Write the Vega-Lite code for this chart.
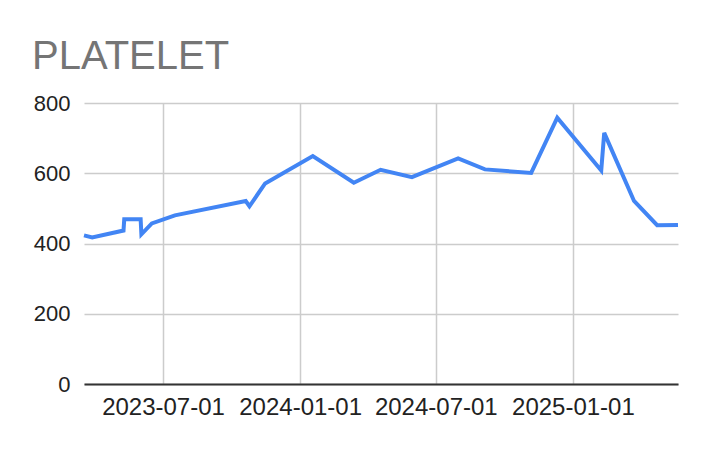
{
  "$schema": "https://vega.github.io/schema/vega-lite/v6.json",
  "description": "PLATELET count over time, Google Sheets style line chart.",
  "width": 594,
  "height": 281,
  "autosize": {"type": "none"},
  "padding": {"left": 84, "top": 103, "right": 34, "bottom": 84},
  "background": "white",
  "title": {
    "text": "PLATELET",
    "anchor": "start",
    "frame": "group",
    "dx": -52,
    "dy": 51,
    "offset": 34,
    "baseline": "alphabetic",
    "font": "Liberation Sans",
    "fontSize": 40,
    "fontWeight": "normal",
    "color": "#757575"
  },
  "data": {
    "values": [
      {"date": "2023-03-17", "platelet": 423},
      {"date": "2023-03-28", "platelet": 417},
      {"date": "2023-05-09", "platelet": 437},
      {"date": "2023-05-10", "platelet": 469},
      {"date": "2023-06-01", "platelet": 469},
      {"date": "2023-06-02", "platelet": 426},
      {"date": "2023-06-16", "platelet": 457},
      {"date": "2023-07-17", "platelet": 480},
      {"date": "2023-10-20", "platelet": 521},
      {"date": "2023-10-25", "platelet": 506},
      {"date": "2023-11-15", "platelet": 571},
      {"date": "2024-01-18", "platelet": 649},
      {"date": "2024-03-13", "platelet": 573},
      {"date": "2024-04-18", "platelet": 610},
      {"date": "2024-05-30", "platelet": 589},
      {"date": "2024-07-31", "platelet": 642},
      {"date": "2024-09-05", "platelet": 611},
      {"date": "2024-11-06", "platelet": 601},
      {"date": "2024-12-11", "platelet": 758},
      {"date": "2025-02-08", "platelet": 608},
      {"date": "2025-02-12", "platelet": 715},
      {"date": "2025-03-24", "platelet": 521},
      {"date": "2025-04-24", "platelet": 452},
      {"date": "2025-05-22", "platelet": 453}
    ]
  },
  "mark": {"type": "line", "color": "#4285F4", "strokeWidth": 4},
  "encoding": {
    "x": {
      "field": "date",
      "type": "temporal",
      "scale": {"type": "utc", "nice": false},
      "axis": {
        "title": null,
        "values": [
          {"year": 2023, "month": 7, "date": 1, "utc": true},
          {"year": 2024, "month": 1, "date": 1, "utc": true},
          {"year": 2024, "month": 7, "date": 1, "utc": true},
          {"year": 2025, "month": 1, "date": 1, "utc": true}
        ],
        "format": "%Y-%m-%d",
        "labelAngle": 0,
        "labelOverlap": false,
        "labelFlush": false,
        "labelFontSize": 24,
        "labelPadding": 11,
        "domain": true,
        "domainColor": "#333333",
        "domainWidth": 2
      }
    },
    "y": {
      "field": "platelet",
      "type": "quantitative",
      "scale": {"domain": [0, 800], "nice": false},
      "axis": {
        "title": null,
        "values": [0, 200, 400, 600, 800],
        "labelFontSize": 22,
        "labelPadding": 14,
        "domain": false
      }
    }
  },
  "config": {
    "view": {"stroke": null},
    "axis": {
      "labelFont": "Liberation Sans",
      "labelColor": "#222222",
      "ticks": false,
      "grid": true,
      "gridColor": "#cccccc",
      "gridWidth": 1.5
    }
  }
}
